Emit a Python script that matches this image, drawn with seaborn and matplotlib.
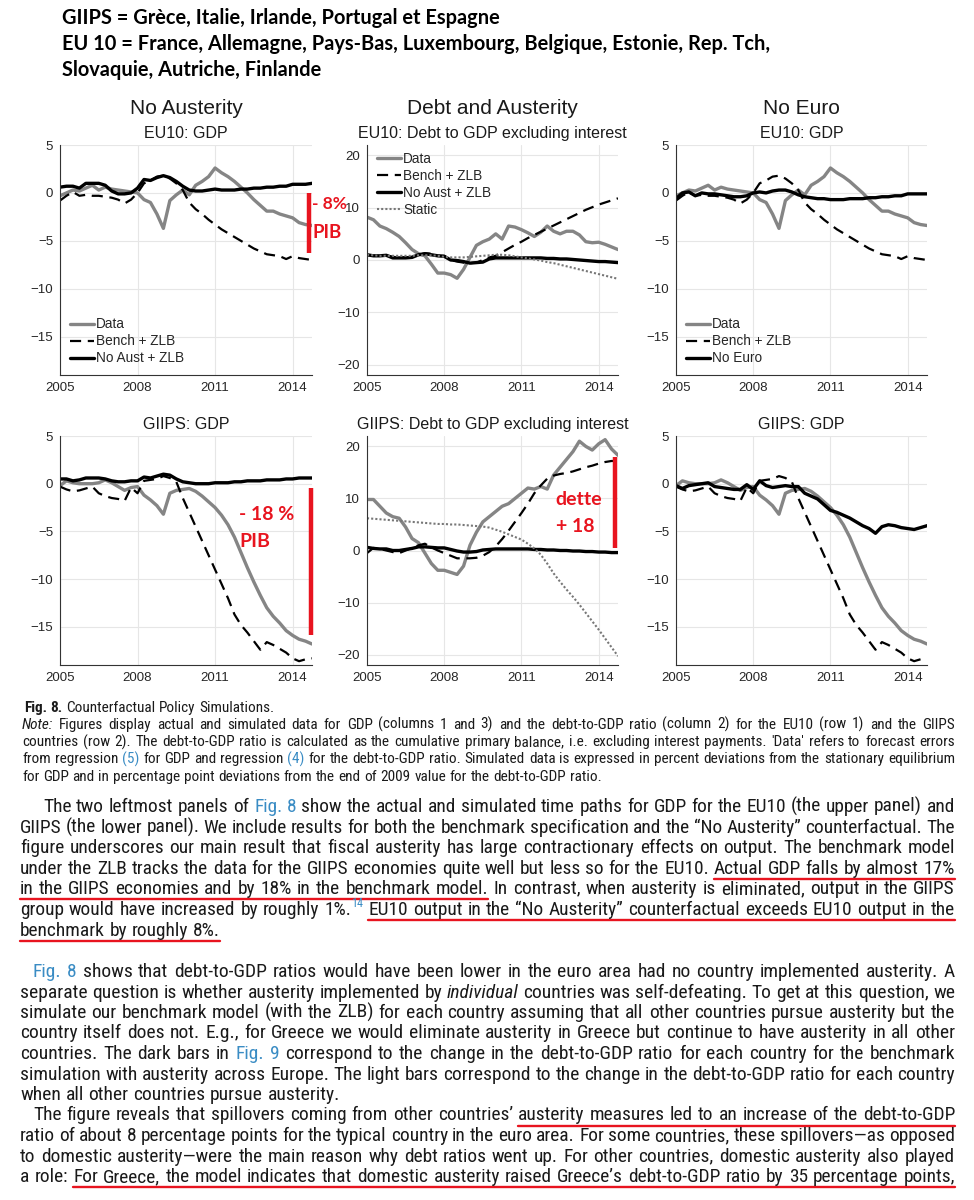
import matplotlib
matplotlib.use("Agg")
import matplotlib.pyplot as plt
from matplotlib.lines import Line2D
from matplotlib import font_manager
from matplotlib.font_manager import FontProperties
import numpy as np
import pandas as pd
import seaborn as sns

W, H = 974, 1200

# quarterly dates 2005Q1 .. 2014Q4
quarters = [2005 + q / 4 for q in range(40)]

# ---- EU10 GDP (columns 1 and 3)
eu10_gdp_data = [-0.3, 0.0, 0.3, 0.2, 0.5, 0.8, 0.3, 0.6, 0.4, 0.3, 0.2, 0.1,
                 0.0, -0.7, -1.0, -2.2, -3.7, -0.8, -0.2, 0.3, -0.2, 0.8, 1.2, 1.7,
                 2.6, 2.1, 1.7, 1.2, 0.6, 0.0, -0.7, -1.3, -1.9, -1.9, -2.2, -2.4,
                 -2.6, -3.1, -3.3, -3.4]
eu10_gdp_bench = [-0.8, -0.3, 0.1, -0.3, -0.2, -0.3, -0.3, -0.4, -0.5, -0.7, -1.1, -0.7,
                  0.0, 1.0, 1.3, 1.7, 1.8, 1.5, 1.0, 0.3, -1.0, -1.7, -2.2, -2.8,
                  -3.3, -3.8, -4.2, -4.6, -5.0, -5.4, -5.8, -6.1, -6.4, -6.5, -6.6, -6.9,
                  -6.6, -6.8, -6.9, -7.0]
eu10_gdp_noaust = [0.6, 0.7, 0.7, 0.5, 1.0, 1.0, 1.0, 0.8, 0.2, -0.1, -0.1, 0.0,
                   0.5, 1.4, 1.3, 1.6, 1.8, 1.6, 1.2, 0.7, 0.3, 0.2, 0.2, 0.3,
                   0.4, 0.3, 0.3, 0.3, 0.4, 0.4, 0.5, 0.5, 0.6, 0.6, 0.7, 0.7,
                   0.9, 0.9, 0.9, 1.0]
eu10_gdp_noeuro = [-0.6, 0.0, 0.1, -0.3, 0.0, -0.1, -0.1, -0.2, -0.3, -0.4, -0.4, -0.3,
                   0.0, 0.1, 0.0, 0.2, 0.3, 0.3, 0.1, -0.2, -0.4, -0.5, -0.6, -0.6,
                   -0.7, -0.7, -0.7, -0.6, -0.6, -0.6, -0.5, -0.5, -0.4, -0.4, -0.3, -0.3,
                   -0.1, -0.1, -0.1, -0.1]

# ---- EU10 debt to GDP (column 2)
eu10_debt_data = [8.2, 7.7, 6.5, 6.0, 5.3, 4.5, 3.3, 2.0, 1.2, 0.8, -0.8, -2.5,
                  -2.5, -2.8, -3.5, -1.8, 0.5, 2.8, 3.5, 4.0, 5.0, 4.0, 6.5, 6.3,
                  5.8, 5.2, 4.5, 5.3, 6.5, 5.5, 5.0, 5.5, 5.5, 4.8, 3.5, 3.3,
                  3.4, 3.0, 2.5, 2.0]
eu10_debt_bench = [1.0, 0.8, 0.8, 0.9, 0.6, 0.5, 0.5, 0.6, 1.0, 1.3, 1.2, 0.8,
                   0.8, 0.0, -0.3, -0.5, -0.6, -0.5, 0.0, 0.5, 0.8, 1.5, 2.2, 2.9,
                   3.5, 4.2, 4.8, 5.4, 6.0, 6.6, 7.2, 7.8, 8.4, 9.0, 9.6, 10.1,
                   10.6, 11.0, 11.4, 11.8]
eu10_debt_noaust = [1.0, 0.8, 0.8, 0.9, 0.4, 0.4, 0.4, 0.5, 1.0, 1.2, 1.0, 0.8,
                    0.7, 0.0, -0.1, -0.3, -0.6, -0.5, -0.4, 0.2, 0.4, 0.4, 0.4, 0.4,
                    0.4, 0.4, 0.4, 0.4, 0.3, 0.3, 0.2, 0.2, 0.1, 0.0, -0.1, -0.2,
                    -0.3, -0.3, -0.4, -0.5]
eu10_debt_static = [1.0, 0.9, 0.8, 0.8, 0.8, 0.8, 0.8, 0.8, 0.9, 0.9, 0.9, 0.8,
                    0.6, 0.5, 0.5, 0.5, 0.6, 0.7, 0.8, 0.9, 1.0, 1.0, 0.9, 0.7,
                    0.5, 0.3, 0.1, -0.1, -0.4, -0.6, -0.9, -1.2, -1.5, -1.8, -2.1, -2.4,
                    -2.7, -3.0, -3.3, -3.6]

# ---- GIIPS GDP (columns 1 and 3)
giips_gdp_data = [-0.2, 0.3, 0.1, 0.0, 0.0, 0.0, 0.1, 0.4, 0.1, -0.3, -0.7, -0.4,
                  -0.3, -1.2, -1.7, -2.3, -3.2, -1.0, -0.7, -0.6, -0.5, -0.8, -1.3, -1.9,
                  -2.5, -3.3, -4.3, -5.6, -7.2, -8.8, -10.3, -11.7, -13.0, -13.9, -14.6, -15.4,
                  -15.9, -16.3, -16.5, -16.8]
giips_gdp_bench = [-0.3, -0.6, -0.8, -0.7, -0.5, -0.3, -1.0, -1.3, -1.5, -1.6, -1.8, -0.4,
                   -1.0, 0.3, 0.4, 0.5, 0.8, 0.6, 0.2, -1.5, -3.0, -4.5, -6.0, -7.5,
                   -9.0, -10.5, -12.0, -13.7, -14.8, -15.6, -16.5, -17.4, -16.6, -16.9, -17.3, -17.7,
                   -18.3, -18.6, -18.4, -18.3]
giips_gdp_noaust = [0.5, 0.5, 0.3, 0.4, 0.6, 0.6, 0.6, 0.5, 0.3, 0.2, 0.2, 0.3,
                    0.3, 0.7, 0.6, 0.8, 1.0, 0.9, 0.5, 0.2, 0.1, 0.0, 0.0, 0.0,
                    0.1, 0.1, 0.1, 0.2, 0.2, 0.3, 0.3, 0.3, 0.4, 0.4, 0.4, 0.5,
                    0.5, 0.6, 0.6, 0.6]
giips_gdp_noeuro = [-0.2, -0.5, -0.2, -0.1, 0.0, 0.1, -0.3, -0.4, -0.5, -0.6, -0.6, -0.1,
                    -0.6, 0.3, -0.2, -0.4, -0.3, -0.2, -0.3, -0.3, -1.0, -1.3, -1.6, -2.2,
                    -2.8, -3.0, -3.3, -3.6, -4.0, -4.4, -4.7, -5.2, -4.5, -4.3, -4.4, -4.6,
                    -4.7, -4.8, -4.6, -4.4]

# ---- GIIPS debt to GDP (column 2)
giips_debt_data = [9.8, 9.8, 8.5, 7.2, 6.5, 6.2, 4.5, 2.3, 1.5, -0.5, -2.5, -3.8,
                   -3.8, -4.2, -4.6, -3.0, 1.0, 3.5, 5.5, 6.5, 7.5, 8.5, 9.0, 10.0,
                   11.0, 12.0, 11.8, 12.3, 11.8, 14.5, 16.0, 17.5, 19.0, 21.0, 20.0, 19.3,
                   20.5, 21.3, 19.5, 18.3]
giips_debt_bench = [-0.5, 0.5, 0.3, 0.0, -0.3, -0.5, 0.0, 0.5, 1.0, 1.3, 0.6, 0.0,
                    -0.5, -1.0, -1.5, -1.5, -1.5, -1.4, -1.0, -0.3, 0.8, 2.2, 3.8, 5.5,
                    7.2, 9.0, 11.0, 12.5, 13.8, 14.4, 14.7, 14.9, 15.2, 15.6, 16.0, 16.3,
                    16.7, 17.0, 17.2, 17.2]
giips_debt_noaust = [0.6, 0.4, 0.3, 0.3, 0.0, 0.0, 0.2, 0.4, 0.7, 0.7, 0.6, 0.5,
                     0.5, 0.2, -0.1, -0.3, -0.3, -0.2, 0.1, 0.2, 0.3, 0.3, 0.3, 0.3,
                     0.3, 0.3, 0.2, 0.2, 0.1, 0.1, 0.0, 0.0, -0.1, -0.1, -0.2, -0.2,
                     -0.3, -0.3, -0.4, -0.4]
giips_debt_static = [6.2, 6.1, 6.0, 5.9, 5.8, 5.7, 5.6, 5.5, 5.4, 5.3, 5.2, 5.1,
                     5.1, 5.0, 5.0, 4.9, 4.8, 4.7, 4.6, 4.4, 4.0, 3.6, 3.1, 2.6,
                     2.1, 1.3, 0.4, -0.8, -2.5, -4.4, -6.0, -7.5, -8.9, -10.4, -12.0, -13.6,
                     -15.2, -16.9, -18.6, -20.3]

col_titles = ["No Austerity", "Debt and Austerity", "No Euro"]
row_names = ["EU10", "GIIPS"]
gdp_ticks = [5, 0, -5, -10, -15]
debt_ticks = [20, 10, 0, -10, -20]
year_ticks = [2005, 2008, 2011, 2014]

header_lines = [
    "GIIPS = Grèce, Italie, Irlande, Portugal et Espagne",
    "EU 10 = France, Allemagne, Pays-Bas, Luxembourg, Belgique, Estonie, Rep. Tch,",
    "Slovaquie, Autriche, Finlande",
]

# markup: {} blue, [] red underline, <> italic, ** bold, ^ superscript
caption_lines = [
    "*Fig. 8.* Counterfactual Policy Simulations.",
    "<Note:> Figures display actual and simulated data for GDP (columns 1 and 3) and the debt-to-GDP ratio (column 2) for the EU10 (row 1) and the GIIPS",
    "countries (row 2). The debt-to-GDP ratio is calculated as the cumulative primary balance, i.e. excluding interest payments. 'Data' refers to forecast errors",
    "from regression {(5)} for GDP and regression {(4)} for the debt-to-GDP ratio. Simulated data is expressed in percent deviations from the stationary equilibrium",
    "for GDP and in percentage point deviations from the end of 2009 value for the debt-to-GDP ratio.",
]
para1_lines = [
    "The two leftmost panels of {Fig. 8} show the actual and simulated time paths for GDP for the EU10 (the upper panel) and",
    "GIIPS (the lower panel). We include results for both the benchmark specification and the “No Austerity” counterfactual. The",
    "figure underscores our main result that fiscal austerity has large contractionary effects on output. The benchmark model",
    "under the ZLB tracks the data for the GIIPS economies quite well but less so for the EU10. [Actual GDP falls by almost 17%]",
    "[in the GIIPS economies and by 18% in the benchmark model.] In contrast, when austerity is eliminated, output in the GIIPS",
    "group would have increased by roughly 1%. ^14 [EU10 output in the “No Austerity” counterfactual exceeds EU10 output in the]",
    "[benchmark by roughly 8%.]",
]
para2_lines = [
    "{Fig. 8} shows that debt-to-GDP ratios would have been lower in the euro area had no country implemented austerity. A",
    "separate question is whether austerity implemented by <individual> countries was self-defeating. To get at this question, we",
    "simulate our benchmark model (with the ZLB) for each country assuming that all other countries pursue austerity but the",
    "country itself does not. E.g., for Greece we would eliminate austerity in Greece but continue to have austerity in all other",
    "countries. The dark bars in {Fig. 9} correspond to the change in the debt-to-GDP ratio for each country for the benchmark",
    "simulation with austerity across Europe. The light bars correspond to the change in the debt-to-GDP ratio for each country",
    "when all other countries pursue austerity.",
]
para3_lines = [
    "The figure reveals that spillovers coming from other countries’ [austerity measures led to an increase of the debt-to-GDP",
    "ratio of about 8 percentage points for the typical country in the euro area.] For some countries, these spillovers—as opposed",
    "to domestic austerity—were the main reason why debt ratios went up. For other countries, domestic austerity also played",
    "a role: [For Greece, the model indicates that domestic austerity raised Greece’s debt-to-GDP ratio by 35 percentage points,]",
]

# red hand-drawn remarks: (row, col, x year, y from, y to) and labels
red_bars = [(0, 0, 2014.62, 0.0, -6.3), (1, 0, 2014.7, -0.5, -15.9), (1, 1, 2014.65, 17.9, 0.4)]
red_labels = [(0, 0, 2014.76, -1.2, "- 8%", 12.5), (0, 0, 2014.78, -4.1, "PIB", 13.5),
              (1, 0, 2011.93, -3.2, "- 18 %", 14), (1, 0, 2011.93, -6.1, "PIB", 14),
              (1, 1, 2012.33, 9.8, "dette", 14), (1, 1, 2012.36, 4.6, "+ 18", 14)]

GRAY = "#858585"
INK = "#1a1a1a"
BLUE = "#3a8cc4"
RED = "#e8141f"

sns.set_theme(style="whitegrid", rc={
    "grid.color": "#e6e6e6", "grid.linewidth": 0.8,
    "axes.edgecolor": "#333333", "axes.linewidth": 0.8,
    "xtick.color": "#262626", "ytick.color": "#262626",
    "xtick.labelsize": 9.5, "ytick.labelsize": 9.5,
})
installed = {f.name for f in font_manager.fontManager.ttflist}


def first_font(*names):
    for n in names:
        if n in installed:
            return n
    return "DejaVu Sans"


PLOT_FONT = first_font("Liberation Sans", "Arial", "DejaVu Sans")
NARROW = first_font("Liberation Sans Narrow", "Roboto Condensed", "Lato", "Liberation Sans")
CALIBRI = first_font("Lato", "Open Sans", "DejaVu Sans")
plt.rcParams["font.family"] = [PLOT_FONT, "DejaVu Sans"]

fig = plt.figure(figsize=(W / 100, H / 100), dpi=100)
renderer = fig.canvas.get_renderer()


def fx(x):
    return x / W


def fy(y):
    return 1 - y / H


# ---------------- panels
col_left = [60, 367, 676]
col_width = [252, 251, 251]
row_top = [145, 436]
row_height = [230, 229]

panel_series = {
    (0, 0): [(eu10_gdp_data, "Data"), (eu10_gdp_bench, "Bench + ZLB"), (eu10_gdp_noaust, "No Aust + ZLB")],
    (0, 1): [(eu10_debt_data, "Data"), (eu10_debt_bench, "Bench + ZLB"), (eu10_debt_noaust, "No Aust + ZLB"),
             (eu10_debt_static, "Static")],
    (0, 2): [(eu10_gdp_data, "Data"), (eu10_gdp_bench, "Bench + ZLB"), (eu10_gdp_noeuro, "No Euro")],
    (1, 0): [(giips_gdp_data, "Data"), (giips_gdp_bench, "Bench + ZLB"), (giips_gdp_noaust, "No Aust + ZLB")],
    (1, 1): [(giips_debt_data, "Data"), (giips_debt_bench, "Bench + ZLB"), (giips_debt_noaust, "No Aust + ZLB"),
             (giips_debt_static, "Static")],
    (1, 2): [(giips_gdp_data, "Data"), (giips_gdp_bench, "Bench + ZLB"), (giips_gdp_noeuro, "No Euro")],
}
styles = {
    "Data": dict(color=GRAY, linewidth=2.4, linestyle="-"),
    "Bench + ZLB": dict(color="black", linewidth=1.6, linestyle=(0, (5, 3))),
    "No Aust + ZLB": dict(color="black", linewidth=2.4, linestyle="-"),
    "No Euro": dict(color="black", linewidth=2.4, linestyle="-"),
    "Static": dict(color="#777777", linewidth=1.5, linestyle=(0, (1, 1))),
}

axes = {}
for r in range(2):
    for c in range(3):
        ax = fig.add_axes([fx(col_left[c]), fy(row_top[r] + row_height[r]),
                           col_width[c] / W, row_height[r] / H])
        axes[(r, c)] = ax
        for vals, name in panel_series[(r, c)]:
            df = pd.DataFrame({"t": quarters, "v": vals})
            sns.lineplot(data=df, x="t", y="v", ax=ax, label=name, **styles[name])
        ax.set_xlim(2005, 2014.75)
        if c == 1:
            ax.set_ylim(-22, 22)
            ax.set_yticks(debt_ticks)
            sub = f"{row_names[r]}: Debt to GDP excluding interest"
        else:
            ax.set_ylim(-19, 5)
            ax.set_yticks(gdp_ticks)
            sub = f"{row_names[r]}: GDP"
        ax.set_xticks(year_ticks)
        ax.set_xlabel("")
        ax.set_ylabel("")
        ax.tick_params(length=0, pad=5)
        ax.set_title(sub, fontsize=11.5, pad=5, color=INK)
        sns.despine(ax=ax)
        ax.grid(True)
        if r == 0:
            if c == 1:
                ax.legend(loc="upper left", bbox_to_anchor=(0.0, 1.01), frameon=False, fontsize=9.8,
                          handlelength=1.8, handletextpad=0.15, labelspacing=0.22, borderaxespad=0.3)
            else:
                ax.legend(loc="lower left", bbox_to_anchor=(0.0, 0.0), frameon=False, fontsize=9.8,
                          handlelength=1.8, handletextpad=0.15, labelspacing=0.22, borderaxespad=0.3)
        else:
            ax.get_legend().remove()

for c, title in enumerate(col_titles):
    fig.text(fx(col_left[c] + col_width[c] / 2), fy(108), title, ha="center", va="center",
             fontsize=15, color=INK)

for r, c, x, y0, y1 in red_bars:
    axes[(r, c)].plot([x, x], [y0, y1], color=RED, linewidth=3.2, clip_on=False,
                      solid_capstyle="butt", zorder=10)
for r, c, x, y, s, size in red_labels:
    axes[(r, c)].text(x, y, s, color=RED, fontsize=size, fontweight="bold", family=CALIBRI,
                      ha="left", va="center", clip_on=False, zorder=10)


# ---------------- text blocks
def measure(s, size, family, weight="normal", style="normal"):
    fp = FontProperties(family=family, size=size, weight=weight, style=style)
    w, h, d = renderer.get_text_width_height_descent(s, fp, ismath=False)
    return w


def parse(line):
    groups = []
    blue = ital = bold = ul = False
    for tok in line.split(" "):
        sup = tok.startswith("^")
        if sup:
            tok = tok[1:]
        while tok and tok[0] in "[{<*":
            o = tok[0]
            tok = tok[1:]
            if o == "[":
                ul = True
            elif o == "{":
                blue = True
            elif o == "<":
                ital = True
            else:
                bold = True
        closers = []
        while tok and tok[-1] in "]}>*":
            closers.append(tok[-1])
            tok = tok[:-1]
        piece = dict(text=tok, blue=blue or sup, ital=ital, bold=bold, sup=sup, ul=ul)
        for o in closers:
            if o == "]":
                ul = False
            elif o == "}":
                blue = False
            elif o == ">":
                ital = False
            else:
                bold = False
        if sup and groups:
            groups[-1].append(piece)
        else:
            groups.append([piece])
    return groups


def piece_width(p, size, family):
    fs = size * 0.62 if p["sup"] else size
    return measure(p["text"], fs, family, "bold" if p["bold"] else "normal",
                   "italic" if p["ital"] else "normal")


def block_size(lines, base, family, x0, x1, indent, justified_last):
    scale = 1.0
    for i, line in enumerate(lines):
        groups = parse(line)
        if i == len(lines) - 1 and not justified_last:
            continue
        natural = sum(piece_width(p, base, family) for g in groups for p in g)
        space = 0.2 * base * 100 / 72 * (len(groups) - 1)
        avail = x1 - x0 - (indent if i == 0 else 0)
        scale = min(scale, avail / (natural + space))
    return base * scale


def draw_block(lines, y0, step, x0, x1, base, family, indent=0, justified_last=False):
    size = block_size(lines, base, family, x0, x1, indent, justified_last)
    nat_space = 0.24 * size * 100 / 72
    for i, line in enumerate(lines):
        groups = parse(line)
        widths = [[piece_width(p, size, family) for p in g] for g in groups]
        total = sum(sum(w) for w in widths)
        start = x0 + (indent if i == 0 else 0)
        last = i == len(lines) - 1 and not justified_last
        if last or len(groups) < 2:
            gap = nat_space
        else:
            gap = (x1 - start - total) / (len(groups) - 1)
        y = y0 + i * step
        x = start
        ul_start = None
        ul_end = None
        for g, ws in zip(groups, widths):
            gstart = x
            for p, w in zip(g, ws):
                fs = size * 0.62 if p["sup"] else size
                yy = y - 0.42 * size * 100 / 72 if p["sup"] else y
                fig.text(fx(x), fy(yy), p["text"], fontsize=fs, family=family,
                         color=BLUE if p["blue"] else INK,
                         fontweight="bold" if p["bold"] else "normal",
                         fontstyle="italic" if p["ital"] else "normal",
                         ha="left", va="baseline")
                x += w
            if g[0]["ul"]:
                if ul_start is None:
                    ul_start = gstart
                ul_end = x
            elif ul_start is not None:
                fig.add_artist(Line2D([fx(ul_start), fx(ul_end)], [fy(y + 5), fy(y + 5)],
                                      transform=fig.transFigure, color=RED, linewidth=1.7))
                ul_start = None
            x += gap
        if ul_start is not None:
            fig.add_artist(Line2D([fx(ul_start), fx(ul_end)], [fy(y + 5), fy(y + 5)],
                                  transform=fig.transFigure, color=RED, linewidth=1.7))


# header (bold, fitted to the widest line)
hsize = 14 * 711 / measure(header_lines[1], 14, CALIBRI, "bold")
for i, s in enumerate(header_lines):
    fig.text(fx(62), fy(24 + 26 * i), s, fontsize=hsize, family=CALIBRI, fontweight="bold",
             color="black", ha="left", va="baseline")

draw_block(caption_lines[:1], 712, 17, 24, 955, 11, NARROW, justified_last=False)
draw_block(caption_lines[1:], 729, 17.2, 22, 955, 11, NARROW)
draw_block(para1_lines, 812, 20.6, 20, 955, 14, NARROW, indent=23)
draw_block(para2_lines, 977, 20.5, 20, 955, 14, NARROW, indent=13)
draw_block(para3_lines, 1120.5, 20.5, 20, 955, 14, NARROW, indent=13, justified_last=True)

fig.savefig("out.png", dpi=100)
